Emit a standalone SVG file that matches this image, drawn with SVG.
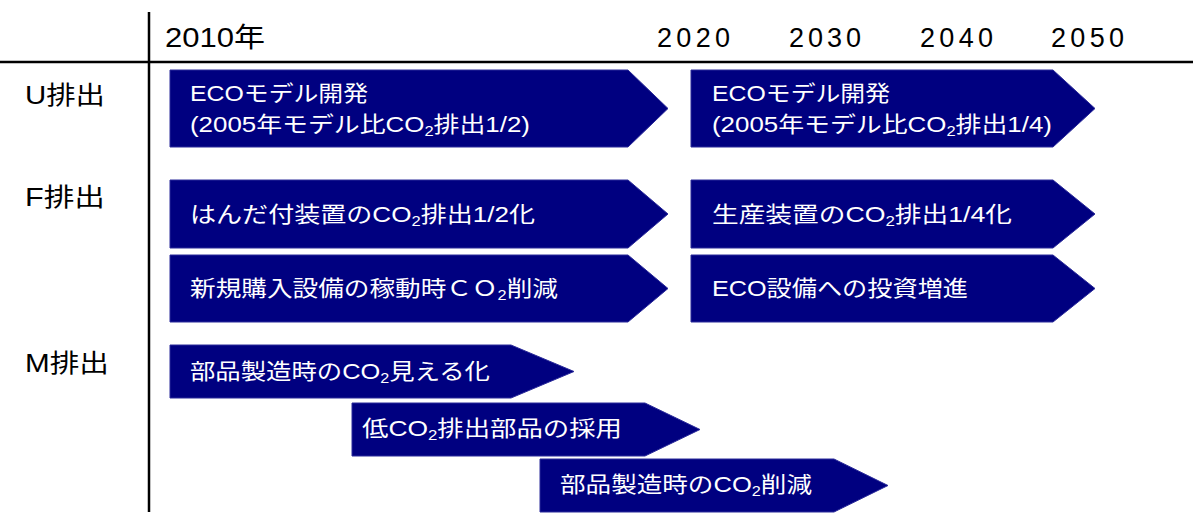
<svg xmlns="http://www.w3.org/2000/svg" width="1193" height="519" viewBox="0 0 1193 519">
<style>
.ax{stroke:#000;stroke-width:2.5;fill:none}
.lbl{font-family:"Liberation Sans","Noto Sans CJK JP",sans-serif;font-size:25px;fill:#000}
.yr{font-family:"Liberation Sans","Noto Sans CJK JP",sans-serif;font-size:27px;fill:#000}
.bx{fill:#000080;stroke:#2a2a9a;stroke-width:1}
.t{font-family:"Liberation Sans","Noto Sans CJK JP",sans-serif;font-size:22px;fill:#fff}
.s{font-size:14px}
</style>
<rect width="1193" height="519" fill="#fff"/>
<g id="axes">
<line class="ax" x1="0" y1="62" x2="1193" y2="62"/>
<line class="ax" x1="149" y1="12" x2="149" y2="512"/>
</g>
<g id="years">
<text class="yr" x="165" y="47" textLength="100" lengthAdjust="spacingAndGlyphs">2010年</text>
<text class="yr" x="657" y="47" textLength="73" lengthAdjust="spacing">2020</text>
<text class="yr" x="789" y="47" textLength="72" lengthAdjust="spacing">2030</text>
<text class="yr" x="920" y="47" textLength="73" lengthAdjust="spacing">2040</text>
<text class="yr" x="1051" y="47" textLength="73" lengthAdjust="spacing">2050</text>
</g>
<g id="rows">
<text class="lbl" x="25" y="104" textLength="80" lengthAdjust="spacingAndGlyphs">U排出</text>
<text class="lbl" x="25" y="206" textLength="80" lengthAdjust="spacingAndGlyphs">F排出</text>
<text class="lbl" x="25" y="372" textLength="84" lengthAdjust="spacingAndGlyphs">M排出</text>
</g>
<g id="u1">
<polygon class="bx" points="170,70 628,70 668,108.5 628,147 170,147"/>
<text class="t" x="190" y="101" textLength="178" lengthAdjust="spacingAndGlyphs">ECOモデル開発</text>
<text class="t" x="190" y="132" textLength="340" lengthAdjust="spacingAndGlyphs">(2005年モデル比CO<tspan class="s" dy="4">2</tspan><tspan dy="-4">排出1/2)</tspan></text>
</g>
<g id="u2">
<polygon class="bx" points="691,70 1053,70 1095,108.5 1053,147 691,147"/>
<text class="t" x="712" y="101" textLength="178" lengthAdjust="spacingAndGlyphs">ECOモデル開発</text>
<text class="t" x="712" y="132" textLength="340" lengthAdjust="spacingAndGlyphs">(2005年モデル比CO<tspan class="s" dy="4">2</tspan><tspan dy="-4">排出1/4)</tspan></text>
</g>
<g id="f1">
<polygon class="bx" points="170,180 628,180 668,214 628,248 170,248"/>
<text class="t" x="190" y="222" textLength="345" lengthAdjust="spacingAndGlyphs">はんだ付装置のCO<tspan class="s" dy="4">2</tspan><tspan dy="-4">排出1/2化</tspan></text>
</g>
<g id="f2">
<polygon class="bx" points="691,180 1053,180 1095,214 1053,248 691,248"/>
<text class="t" x="712" y="222" textLength="300" lengthAdjust="spacingAndGlyphs">生産装置のCO<tspan class="s" dy="4">2</tspan><tspan dy="-4">排出1/4化</tspan></text>
</g>
<g id="f3">
<polygon class="bx" points="170,255 628,255 668,288.5 628,322 170,322"/>
<text class="t" x="190" y="296" textLength="368" lengthAdjust="spacingAndGlyphs">新規購入設備の稼動時ＣＯ<tspan class="s" dy="4">2</tspan><tspan dy="-4">削減</tspan></text>
</g>
<g id="f4">
<polygon class="bx" points="691,255 1053,255 1095,288.5 1053,322 691,322"/>
<text class="t" x="712" y="296" textLength="256" lengthAdjust="spacingAndGlyphs">ECO設備への投資増進</text>
</g>
<g id="m1">
<polygon class="bx" points="170,345 511,345 574,371.5 511,398 170,398"/>
<text class="t" x="190" y="379" textLength="300" lengthAdjust="spacingAndGlyphs">部品製造時のCO<tspan class="s" dy="4">2</tspan><tspan dy="-4">見える化</tspan></text>
</g>
<g id="m2">
<polygon class="bx" points="352,403 645,403 700,429.5 645,456 352,456"/>
<text class="t" x="362" y="436" textLength="260" lengthAdjust="spacingAndGlyphs">低CO<tspan class="s" dy="4">2</tspan><tspan dy="-4">排出部品の採用</tspan></text>
</g>
<g id="m3">
<polygon class="bx" points="540,459 834,459 888,485.5 834,512 540,512"/>
<text class="t" x="560" y="492" textLength="252" lengthAdjust="spacingAndGlyphs">部品製造時のCO<tspan class="s" dy="4">2</tspan><tspan dy="-4">削減</tspan></text>
</g>
</svg>
